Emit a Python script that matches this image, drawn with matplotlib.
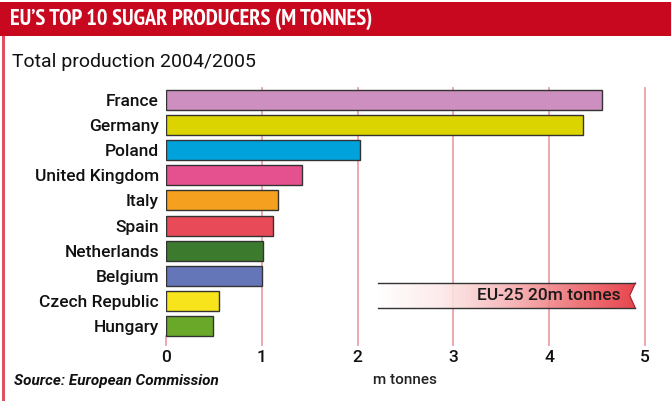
import numpy as np
import matplotlib
matplotlib.use("Agg")
from matplotlib import pyplot as plt
from matplotlib import font_manager as fm
from matplotlib.patches import Polygon, Rectangle
from matplotlib.colors import LinearSegmentedColormap

# data
countries = ["France", "Germany", "Poland", "United Kingdom", "Italy",
             "Spain", "Netherlands", "Belgium", "Czech Republic", "Hungary"]
production = [4.55, 4.35, 2.02, 1.42, 1.17, 1.12, 1.01, 1.00, 0.55, 0.49]
bar_colors = ["#cc8fbf", "#dcd400", "#00a2dc", "#e5518f", "#f5a11f",
              "#e84a58", "#3c7a2e", "#6476b8", "#f7e41c", "#6aa82a"]
ticks = [0, 1, 2, 3, 4, 5]
eu_total_label = "EU-25 20m tonnes"

RED = "#c8081e"
FONT = ["Roboto", "DejaVu Sans"]
plt.rcParams['font.family'] = FONT

# look for a narrow / condensed bold face for the header, if one is installed
def is_upright_bold(f):
    return f.weight in ("bold", 700) and f.style == "normal"
narrow = [f for f in fm.fontManager.ttflist if "Narrow" in f.fname and is_upright_bold(f)]
cond = [f for f in fm.fontManager.ttflist
        if ("ondensed" in f.fname or f.stretch == "condensed") and is_upright_bold(f)]
picks = narrow + cond
if picks:
    title_font = fm.FontProperties(fname=picks[0].fname, size=18)
else:
    title_font = fm.FontProperties(family="Roboto", weight="bold", size=18)

fig = plt.figure(figsize=(6.71, 4.01), dpi=100)
fig.patch.set_facecolor("white")

# header band and left border
fig.add_artist(Rectangle((0, 1 - 36/401), 1, 34/401, transform=fig.transFigure,
                         color=RED, lw=0))
fig.add_artist(Rectangle((2/671, 0), 2.5/671, 1 - 36/401, transform=fig.transFigure,
                         color="#e05060", lw=0))
title = fig.text(10/671, 1 - 19/401, "EU\u2019S TOP 10 SUGAR PRODUCERS (M TONNES)",
                 color="white", fontproperties=title_font, va="center", ha="left")
# shrink header text so it does not run far past where the original ends
renderer = fig.canvas.get_renderer()
w = title.get_window_extent(renderer).width
if w > 365:
    title_font.set_size(18 * 365 / w)
    title.set_fontproperties(title_font)

fig.text(12/671, 1 - 62/401, "Total production 2004/2005",
         color="#111111", fontsize=14, va="center", ha="left")

ax = fig.add_axes([166/671, 1 - 340/401, (645 - 166)/671, (340 - 88)/401])
y = np.arange(len(countries))
for xv in ticks[1:]:
    ax.plot([xv, xv], [9.76, -0.48], color="#f0a0a8", lw=1.3, zorder=0, clip_on=False)
ax.plot([0, 0], [9.4, 9.76], color="#f0a0a8", lw=1.3, zorder=0, clip_on=False)
ax.barh(y, production, height=0.8, color=bar_colors, edgecolor="#333333",
        linewidth=1.0, zorder=2)
ax.set_yticks(y)
ax.set_yticklabels(countries, fontsize=12.5, color="#111111", fontweight="medium")
ax.set_xticks(ticks)
ax.set_xticklabels([str(t) for t in ticks], fontsize=12.5, color="#111111",
                   fontweight="medium")
ax.tick_params(length=0, pad=7)
ax.tick_params(axis="y", pad=5)
for s in ax.spines.values():
    s.set_visible(False)

# EU-25 ribbon with white-to-red gradient
x0, x1, ytop, ybot = 2.21, 4.9, 7.29, 8.29
ymid = (ytop + ybot) / 2
notch = 0.06
ribbon = Polygon([(x0, ytop), (x1, ytop), (x1 - notch, ymid), (x1, ybot), (x0, ybot)],
                 closed=True, facecolor="none", edgecolor="none", zorder=3)
ax.add_patch(ribbon)
cmap = LinearSegmentedColormap.from_list(
    "rib", ["#ffffff", "#fde8e8", "#f6b4b6", "#ee6f74", "#e5303a"])
grad = np.linspace(0, 1, 256).reshape(1, -1)
im = ax.imshow(grad, cmap=cmap, extent=(x0, x1, ybot, ytop), aspect="auto",
               zorder=3, alpha=0.9)
im.set_clip_path(ribbon)
ax.plot([x0, x1], [ytop, ytop], color="#333333", lw=1.0, zorder=4)
ax.plot([x0, x1], [ybot, ybot], color="#333333", lw=1.0, zorder=4)
ax.plot([x1, x1 - notch, x1], [ytop, ymid, ybot], color="#a02028", lw=0.8, zorder=4)
ax.text(x1 - 0.15, ymid, eu_total_label, ha="right", va="center",
        fontsize=12.5, color="#1a1a1a", fontweight="medium", zorder=5)
ax.set_xlim(0, 5)
ax.set_ylim(9.56, -0.48)

fig.text(373/671, 1 - 380/401, "m tonnes", fontsize=11, color="#222222",
         fontweight="medium", va="center", ha="left")
fig.text(14/671, 1 - 381/401, "Source: European Commission", fontsize=11,
         fontweight="bold", fontstyle="italic", color="#111111",
         va="center", ha="left")

fig.savefig("out.png", dpi=100)
